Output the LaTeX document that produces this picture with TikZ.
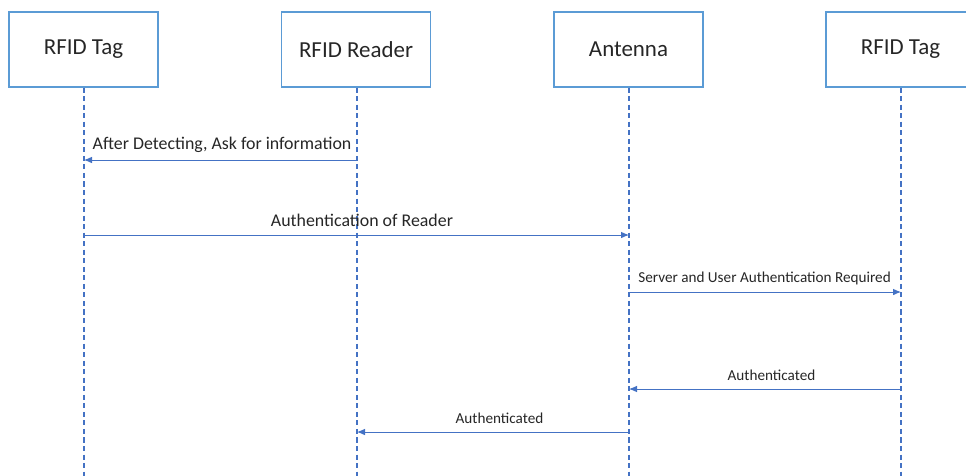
\documentclass[tikz,border=0pt]{standalone}
\usepackage{fontspec}
\setmainfont{Carlito}
\usetikzlibrary{arrows.meta}
\definecolor{boxblue}{HTML}{5B9BD5}
\definecolor{lineblue}{HTML}{4472C4}
\tikzset{
  actor/.style={draw=boxblue, line width=0.9pt, minimum width=149*0.75pt, minimum height=75*0.75pt, inner sep=0pt, font=\fontsize{17.2}{20}\selectfont, text=black!85},
  life/.style={draw=lineblue, line width=0.9pt, dash pattern=on 3.8pt off 2.6pt},
  msg/.style={draw=lineblue, line width=0.7pt, -{Latex[length=6pt,width=5pt]}},
  lbl/.style={font=\fontsize{13.4}{15}\selectfont, text=black!85, inner sep=0pt},
  lbls/.style={font=\fontsize{11.4}{13}\selectfont, text=black!85, inner sep=0pt}
}
\begin{document}
\begin{tikzpicture}[x=0.75pt,y=-0.75pt]
\useasboundingbox (0,0) rectangle (966,475);
\node[actor] (A) at (83.5,49.5) {RFID Tag};
\node[actor] (B) at (356,49.5) {RFID Reader};
\node[actor] (C) at (628.5,49.5) {Antenna};
\node[actor] (D) at (900.5,49.5) {RFID Tag};
\coordinate (Ae) at (84,476);
\coordinate (Be) at (357,476);
\coordinate (Ce) at (629,476);
\coordinate (De) at (901,476);
\draw[life] (A.south -| Ae) -- (Ae);
\draw[life] (B.south -| Be) -- (Be);
\draw[life] (C.south -| Ce) -- (Ce);
\draw[life] (D.south -| De) -- (De);
% messages
\coordinate (m1s) at (357,160); \coordinate (m1e) at (84,160);
\draw[msg] (m1s) -- (m1e);
\node[lbl] (l1) at (222,145) {After Detecting, Ask for information};
\coordinate (m2s) at (84,235); \coordinate (m2e) at (629,235);
\draw[msg] (m2s) -- (m2e);
\node[lbl] (l2) at (362,220) {Authentication of Reader};
\coordinate (m3s) at (629,292); \coordinate (m3e) at (901,292);
\draw[msg] (m3s) -- (m3e);
\node[lbls] (l3) at (764.5,278) {Server and User Authentication Required};
\coordinate (m4s) at (901,389); \coordinate (m4e) at (629,389);
\draw[msg] (m4s) -- (m4e);
\node[lbls] (l4) at (771.5,375) {Authenticated};
\coordinate (m5s) at (629,432); \coordinate (m5e) at (357,432);
\draw[msg] (m5s) -- (m5e);
\node[lbls] (l5) at (499.5,418) {Authenticated};
\end{tikzpicture}
\end{document}
